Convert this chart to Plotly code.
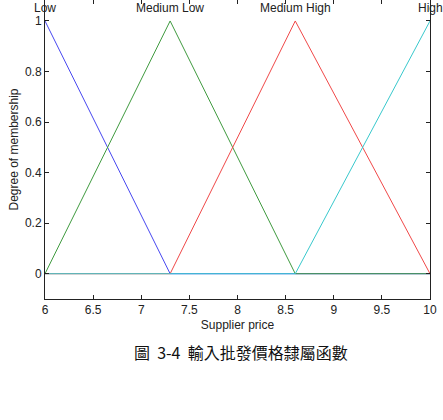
import plotly.graph_objects as go

x_grid = [6, 7.3, 8.6, 10]
mf_names = ["Low", "Medium Low", "Medium High", "High"]
mf_peaks = [6, 7.3, 8.6, 10]
low_vals = [1, 0, 0, 0]
medlow_vals = [0, 1, 0, 0]
medhigh_vals = [0, 0, 1, 0]
high_vals = [0, 0, 0, 1]
colors = ["#4747f0", "#3f9a3f", "#f04848", "#38c8cc"]

fig = go.Figure()
for vals, c in zip([low_vals, medlow_vals, medhigh_vals, high_vals], colors):
    fig.add_trace(go.Scatter(x=x_grid, y=vals, mode="lines",
                             line=dict(color=c, width=1), showlegend=False))

for name, px in zip(mf_names, mf_peaks):
    fig.add_annotation(x=px, y=1.05, text=name, showarrow=False,
                       xref="x", yref="y", yanchor="middle",
                       font=dict(size=12, color="#222"))

fig.add_annotation(x=0.51, y=-0.225, xref="paper", yref="paper",
                   text="圖  3-4  輸入批發價格隸屬函數", showarrow=False,
                   font=dict(size=16, color="#111", family="Noto Sans CJK TC"))

fig.update_layout(
    width=443, height=420,
    margin=dict(l=45, r=13, t=0, b=121),
    paper_bgcolor="white", plot_bgcolor="white",
    font=dict(family="Liberation Sans", size=12, color="#222"),
    xaxis=dict(range=[6, 10], tickvals=[6, 6.5, 7, 7.5, 8, 8.5, 9, 9.5, 10],
               ticktext=["6", "6.5", "7", "7.5", "8", "8.5", "9", "9.5", "10"],
               showline=True, linecolor="#222", linewidth=1, mirror="ticks",
               ticks="inside", ticklen=4, tickcolor="#222",
               showgrid=False, zeroline=False,
               title=dict(text="Supplier price", standoff=4, font=dict(size=12))),
    yaxis=dict(range=[-0.1, 1.083], tickvals=[0, 0.2, 0.4, 0.6, 0.8, 1],
               ticktext=["0", "0.2", "0.4", "0.6", "0.8", "1"],
               showline=True, linecolor="#222", linewidth=1, mirror="ticks",
               ticks="inside", ticklen=4, tickcolor="#222",
               showgrid=False, zeroline=False,
               title=dict(text="Degree of membership", standoff=3, font=dict(size=12))),
)

fig.write_html("out.html")
